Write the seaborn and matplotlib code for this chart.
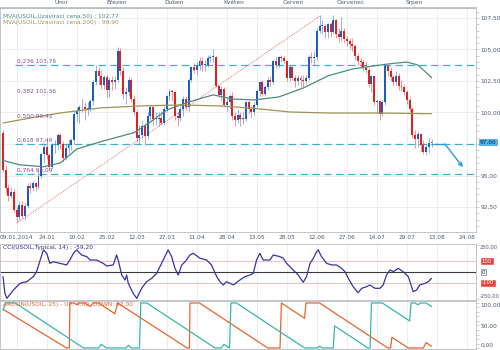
import matplotlib
matplotlib.use("Agg")
import matplotlib.pyplot as plt
import matplotlib.ticker as mticker
import numpy as np
import pandas as pd
import seaborn as sns

sns.set_theme(style="white")
plt.rcParams["font.family"] = ["DejaVu Sans"]

# ---------------- daily OHLC, USOIL, 02.01.2014 - 11.08.2014 ----------------
opens = [98.4, 95.4, 94.0, 93.4, 93.7, 92.3, 91.7, 92.7, 91.8, 92.6,
         94.2, 94.0, 94.4, 94.1, 95.0, 96.7, 97.3, 96.6, 95.7, 97.4,
         97.4, 98.2, 97.5, 96.4, 97.2, 97.4, 97.8, 99.9, 100.1, 100.4,
         100.4, 100.3, 100.3, 100.9, 102.4, 103.3, 102.9, 102.2, 102.8, 101.8,
         102.6, 102.4, 102.6, 104.9, 103.3, 101.5, 101.6, 102.6, 101.1, 100.0,
         98.0, 98.2, 98.9, 98.1, 99.7, 100.4, 99.5, 99.5, 99.6, 99.2,
         100.3, 101.3, 101.7, 101.6, 99.7, 99.6, 100.3, 101.1, 100.4, 102.6,
         103.6, 103.4, 103.7, 104.1, 103.8, 103.8, 104.3, 104.4, 104.4, 102.1,
         101.4, 101.9, 100.6, 100.8, 101.3, 99.7, 99.4, 99.8, 99.5, 99.5,
         100.8, 100.3, 100.0, 100.6, 101.7, 102.4, 101.5, 102.0, 102.6, 102.4,
         104.1, 103.8, 104.4, 104.3, 104.1, 102.7, 103.6, 102.7, 102.5, 102.7,
         102.6, 102.5, 102.7, 104.4, 104.3, 104.4, 106.5, 106.9, 106.9, 106.4,
         107.0, 106.4, 107.3, 106.2, 106.0, 106.5, 105.8, 105.7, 105.4, 105.3,
         104.5, 104.1, 104.0, 103.5, 103.4, 102.3, 102.9, 100.8, 100.9, 99.9,
         100.8, 103.7, 103.3, 102.8, 102.4, 102.9, 102.1, 102.0, 101.6, 101.0,
         100.3, 98.2, 97.9, 98.3, 97.4, 96.9, 97.3, 97.6]
highs = [98.6, 95.8, 94.3, 94.1, 93.9, 92.5, 93.0, 93.0, 92.8, 94.4,
         94.5, 94.6, 94.5, 95.4, 96.8, 97.6, 97.8, 96.8, 97.6, 97.8,
         98.4, 98.4, 97.7, 97.5, 97.9, 98.0, 100.0, 100.4, 100.6, 101.1,
         100.8, 100.8, 101.1, 102.6, 103.8, 103.6, 103.4, 103.0, 103.0, 102.8,
         102.9, 102.9, 105.2, 105.1, 103.6, 102.0, 102.8, 102.7, 101.4, 100.2,
         99.0, 99.4, 99.2, 100.0, 100.6, 100.5, 100.0, 100.0, 100.1, 100.5,
         101.4, 101.9, 101.9, 101.7, 100.0, 100.5, 101.3, 101.3, 102.7, 103.7,
         103.9, 104.0, 104.4, 104.4, 104.2, 104.6, 104.6, 105.0, 104.5, 102.2,
         102.1, 102.0, 101.2, 101.5, 101.6, 100.0, 100.3, 100.0, 100.1, 100.9,
         101.0, 100.5, 100.8, 101.9, 102.5, 102.6, 102.2, 102.8, 102.9, 104.2,
         104.4, 104.5, 104.6, 104.5, 104.2, 103.8, 103.7, 103.0, 103.0, 103.0,
         103.0, 103.0, 104.6, 104.8, 104.9, 106.7, 107.7, 107.3, 107.0, 107.1,
         107.2, 107.7, 107.4, 106.7, 107.6, 106.7, 106.1, 105.9, 105.9, 105.4,
         104.7, 104.3, 104.2, 104.0, 103.5, 103.0, 102.9, 101.1, 101.0, 101.0,
         103.9, 103.8, 103.6, 103.0, 103.3, 103.1, 102.6, 102.3, 101.8, 101.2,
         100.4, 98.6, 98.5, 98.4, 97.8, 97.6, 98.0, 97.9]
lows = [95.3, 93.6, 93.0, 93.2, 92.1, 91.3, 91.5, 91.6, 91.5, 92.4,
        93.6, 93.8, 93.8, 93.9, 94.8, 96.0, 96.3, 95.4, 95.5, 96.8,
        97.0, 97.1, 96.1, 96.2, 96.8, 97.0, 97.5, 99.3, 99.2, 100.0,
        99.4, 99.8, 100.1, 100.6, 102.2, 102.2, 101.9, 101.9, 101.2, 101.2,
        101.8, 101.9, 102.4, 103.0, 101.1, 100.7, 101.3, 100.8, 99.8, 97.7,
        97.5, 98.0, 97.4, 97.9, 99.4, 98.9, 99.0, 98.9, 99.0, 99.0,
        100.0, 101.0, 100.9, 99.4, 98.9, 99.3, 99.7, 100.2, 100.1, 102.4,
        103.1, 103.0, 103.4, 103.3, 103.3, 103.6, 104.0, 104.0, 102.0, 101.2,
        101.0, 100.4, 100.1, 100.3, 99.4, 98.9, 99.2, 98.9, 99.1, 99.3,
        99.9, 99.6, 99.8, 100.4, 101.3, 101.3, 101.3, 101.8, 102.1, 102.3,
        103.5, 103.6, 104.0, 103.9, 102.5, 102.5, 102.6, 102.0, 102.2, 102.0,
        102.0, 102.3, 102.6, 103.9, 103.8, 104.2, 106.3, 106.2, 105.9, 105.9,
        106.0, 106.3, 105.9, 105.6, 105.7, 105.5, 105.3, 105.0, 104.9, 104.2,
        103.8, 103.7, 103.3, 103.1, 102.0, 101.6, 100.6, 100.0, 99.4, 99.7,
        100.6, 102.9, 102.5, 102.1, 102.2, 101.8, 101.7, 101.4, 100.7, 100.0,
        98.0, 97.2, 97.3, 96.9, 96.7, 96.6, 96.8, 97.3]
closes = [95.4, 94.0, 93.4, 93.7, 92.3, 91.7, 92.7, 91.8, 92.6, 94.2,
          94.0, 94.4, 94.1, 95.0, 96.7, 97.3, 96.6, 95.7, 97.4, 97.4,
          98.2, 97.5, 96.4, 97.2, 97.4, 97.8, 99.9, 100.1, 100.4, 100.4,
          100.3, 100.3, 100.9, 102.4, 103.3, 102.9, 102.2, 102.8, 101.8, 102.6,
          102.4, 102.6, 104.9, 103.3, 101.5, 101.6, 102.6, 101.1, 100.0, 98.0,
          98.2, 98.9, 98.1, 99.7, 100.4, 99.5, 99.5, 99.6, 99.2, 100.3,
          101.3, 101.7, 101.6, 99.7, 99.6, 100.3, 101.1, 100.4, 102.6, 103.6,
          103.4, 103.7, 104.1, 103.8, 103.8, 104.3, 104.4, 104.4, 102.1, 101.4,
          101.9, 100.6, 100.8, 101.3, 99.7, 99.4, 99.8, 99.5, 99.5, 100.8,
          100.3, 100.0, 100.6, 101.7, 102.4, 101.5, 102.0, 102.6, 102.4, 104.1,
          103.8, 104.4, 104.3, 104.1, 102.7, 103.6, 102.7, 102.5, 102.7, 102.6,
          102.5, 102.7, 104.4, 104.3, 104.4, 106.5, 106.9, 106.9, 106.4, 107.0,
          106.4, 107.3, 106.2, 106.0, 106.5, 105.8, 105.7, 105.4, 105.3, 104.5,
          104.1, 104.0, 103.5, 103.4, 102.3, 102.9, 100.8, 100.9, 99.9, 100.8,
          103.7, 103.3, 102.8, 102.4, 102.9, 102.1, 102.0, 101.6, 101.0, 100.3,
          98.2, 97.9, 98.3, 97.4, 96.9, 97.3, 97.6, 97.66]

# moving averages (bar index, value)
ma50_x = [0, 6, 15, 21, 27, 36, 48, 54, 60, 68, 77, 84, 92, 101, 110, 119, 128, 136, 143, 148, 152, 157]
ma50_v = [96.2, 95.85, 95.7, 96.0, 97.1, 97.7, 98.4, 99.25, 100.2, 100.83, 101.4, 101.07, 101.0,
          101.23, 101.94, 102.9, 103.45, 103.7, 103.9, 104.0, 103.77, 102.77]
ma200_x = [0, 9.9, 20.9, 35.5, 50.2, 64.8, 79.5, 90.5, 105.1, 119.8, 138.1, 157]
ma200_v = [99.17, 99.56, 99.96, 100.36, 100.52, 100.6, 100.52, 100.36, 100.04, 99.96, 99.96, 99.90]

# Fibonacci retracement between the January low and the June high
fib_low, fib_high = 91.22, 107.63
fib_low_bar, fib_high_bar = 5, 116
fib_ratios = ["0,236", "0,382", "0,500", "0,618", "0,764"]
fib_levels = [103.76, 101.36, 99.42, 97.49, 95.09]
fib_drawn = [True, False, False, True, True]

# projected move
arrow_x = [158.2, 161.9, 168.5]
arrow_y = [97.5, 97.5, 95.67]

# CCI(14)
cci_x = [0, 0.7, 1.4, 3.8, 6.2, 8.7, 11.1, 12.3, 14.2, 14.8,
         16.0, 17.2, 18.4, 20.9, 23.3, 24.5, 25.8, 27.0, 28.8, 30.7,
         31.9, 34.3, 36.7, 38.0, 40.4, 41.6, 42.2, 43.5, 44.7, 45.3,
         45.9, 47.7, 49.0, 50.8, 52.6, 54.5, 56.3, 58.7, 60.5, 61.8,
         63.0, 64.2, 65.5, 66.7, 68.5, 69.7, 72.2, 74.6, 76.4, 78.3,
         79.5, 80.7, 81.9, 83.2, 84.4, 86.8, 88.6, 90.5, 91.7, 92.9,
         94.1, 95.3, 97.8, 99.0, 101.5, 102.7, 103.9, 106.3, 108.2, 110.0,
         111.2, 112.5, 113.7, 114.9, 115.5, 116.7, 118.6, 120.4, 122.2, 124.1,
         125.3, 126.5, 128.3, 130.1, 131.4, 133.2, 134.4, 136.3, 138.1, 139.3,
         140.5, 141.8, 143.0, 144.8, 146.6, 148.5, 150.3, 151.5, 152.7, 154.6,
         155.8, 157.0]
cci_v = [-43, -197, -244, -167, -105, -90, -43, 3, 157, 204,
         173, 80, 95, 80, 65, 111, 173, 204, 157, 142,
         111, 111, 80, 56, 65, 157, 111, -28, -74, -28,
         -105, -197, -244, -151, -90, -58, -12, 111, 204, 142,
         34, -28, 65, 95, 157, 173, 127, 111, 65, -43,
         -90, -120, -90, -105, -120, -74, -43, -28, -12, 111,
         173, 111, 111, 157, 142, 127, 80, 19, -28, -95,
         -43, 80, 127, 188, 204, 142, 80, 65, 65, 34,
         3, -58, -136, -192, -151, -136, -120, -151, -151, -120,
         -28, 19, 3, 34, 3, -43, -182, -167, -120, -105,
         -90, -59.2]

# AROON(25)
aroon_up_x = [0, 23.3, 24.3, 24.5, 26, 27, 28, 30, 31, 32,
              33, 35, 36, 37, 38, 39, 40, 41, 42, 67.5,
              68.3, 68.5, 72, 97, 101.5, 102, 110.5, 111, 116, 141,
              142, 142.5, 148.5, 154, 155, 157]
aroon_up_v = [86, 0, 0, 100, 100, 96, 100, 100, 96, 92,
              100, 100, 96, 92, 88, 84, 80, 76, 100, 0,
              0, 100, 100, 0, 0, 100, 66, 100, 100, 0,
              0, 24, 0, 0, 12, 4]
aroon_dn_x = [0, 1, 4.5, 29.5, 35, 36, 37, 38, 45, 46,
              47, 50, 50.5, 52.7, 77.7, 80, 81, 82, 83, 83.5,
              85.5, 110.5, 115, 116, 117, 121, 121.5, 133.7, 134.5, 135,
              139, 149, 149.5, 151, 152, 153, 155, 157]
aroon_dn_v = [84, 100, 100, 0, 0, 8, 4, 0, 0, 6,
              0, 0, 100, 100, 0, 0, 8, 4, 0, 100,
              100, 0, 0, 4, 0, 0, 49, 0, 0, 100,
              100, 60, 100, 100, 96, 100, 100, 92]

# axis labels
date_labels = ["09.01.2014", "24.01", "10.02", "25.02", "12.03", "27.03", "11.04", "28.04",
               "13.05", "28.05", "12.06", "27.06", "14.07", "29.07", "13.08", "24.08"]
month_labels = ["Únor", "Březen", "Duben", "Květen", "Červen", "Červenec", "Srpen"]
month_bars = [21.5, 41.5, 62.5, 84.5, 106.5, 127.5, 150.5]

# ---------------- layout ----------------
W, H = 500, 350
def rect(x0, y0, x1, y1):
    return [x0 / W, 1 - y1 / H, (x1 - x0) / W, (y1 - y0) / H]

fig = plt.figure(figsize=(5, 3.5), dpi=100)
fig.patch.set_facecolor("white")
ax = fig.add_axes(rect(0, 8, 476, 232))
ax_cci = fig.add_axes(rect(0, 244, 476, 300))
ax_ar = fig.add_axes(rect(0, 301, 476, 349))

XMIN, XMAX = -1.1, 173.3
FS = 4.2
TXT = "#4f5a78"
GRID = "#e6e8ec"
FRAME = "#b8bcc4"
date_pos = [5 + 11 * i for i in range(len(date_labels))]

for a in (ax, ax_cci, ax_ar):
    a.set_xlim(XMIN, XMAX)
    a.set_facecolor("white")
    for s in a.spines.values():
        s.set_color(FRAME)
        s.set_linewidth(0.6)
    a.yaxis.tick_right()
    a.tick_params(axis="y", which="both", direction="out", length=2, width=0.5,
                  colors=FRAME, labelcolor=TXT, labelsize=FS, pad=1)
    a.set_xticks(date_pos)
    for xp in date_pos:
        a.axvline(xp, color=GRID, lw=0.5, zorder=0)

# ---------------- price panel ----------------
df = pd.DataFrame({"bar": np.arange(len(closes)), "open": opens, "high": highs,
                   "low": lows, "close": closes})
up = df["close"] >= df["open"]
UPC, DNC = "#1f5cc2", "#e3201b"
colors = np.where(up, UPC, DNC)
ax.vlines(df["bar"], df["low"], df["high"], colors=colors, lw=0.6, alpha=0.55, zorder=3)
body_lo = np.minimum(df["open"], df["close"])
body_h = np.maximum(np.abs(df["close"] - df["open"]), 0.06)
ax.bar(df["bar"], body_h, bottom=body_lo, width=0.72, color=colors, lw=0, zorder=4)

ax.set_ylim(90.52, 108.29)
ax.set_yticks([92.5, 95.0, 97.5, 100.0, 102.5, 105.0, 107.5])
ax.yaxis.set_minor_locator(mticker.MultipleLocator(0.5))
ax.yaxis.set_major_formatter(mticker.FuncFormatter(
    lambda v, p: "" if abs(v - 97.5) < 0.01 else f"{v:.2f}".replace(".", ",")))
for yv in [92.5, 95.0, 97.5, 100.0, 102.5, 105.0, 107.5]:
    ax.axhline(yv, color=GRID, lw=0.5, zorder=0)

ma_df = pd.DataFrame({"bar": ma50_x, "value": ma50_v})
sns.lineplot(data=ma_df, x="bar", y="value", ax=ax, color="#4e8c7c", lw=0.9, sort=False,
             estimator=None, zorder=5)
ma_df2 = pd.DataFrame({"bar": ma200_x, "value": ma200_v})
sns.lineplot(data=ma_df2, x="bar", y="value", ax=ax, color="#9c9456", lw=0.9, sort=False,
             estimator=None, zorder=5)

# trend line and retracement levels
ax.plot([fib_low_bar, fib_high_bar], [fib_low, fib_high], color="#e8605a", lw=0.6,
        ls=(0, (1.2, 1.2)), zorder=2)
for r, lv, drawn in zip(fib_ratios, fib_levels, fib_drawn):
    if drawn:
        ax.plot([4.3, XMAX], [lv, lv], color="#3cb4c8", lw=0.9, ls=(0, (6, 3.5)), zorder=2)
    ax.text(5.0, lv + 0.12, f"{r} {lv:.2f}".replace(".", ","),
            fontsize=FS, color="#8a4a9c", va="bottom", ha="left", zorder=6)

ax.plot(arrow_x[:2], arrow_y[:2], color="#2a9bd8", lw=1.0, zorder=6)
ax.annotate("", xy=(arrow_x[2], arrow_y[2]), xytext=(arrow_x[1], arrow_y[1]),
            arrowprops=dict(arrowstyle="->", color="#2a9bd8", lw=1.0,
                            shrinkA=0, shrinkB=0, mutation_scale=6), zorder=6)

# last price tag
ax.text(1.008, closes[-1], f"{closes[-1]:.2f}".replace(".", ","), transform=ax.get_yaxis_transform(),
        fontsize=FS, color="#0d2a5a", va="center", ha="left",
        bbox=dict(boxstyle="square,pad=0.15", fc="#4cb8ea", ec="#2a8fc8", lw=0.4), zorder=7)

# legend lines
ax.text(0.006, 0.975, "MVA(USOIL,Uzavírací cena,50) : 102,77", transform=ax.transAxes,
        fontsize=FS, color="#4e8c7c", va="top", ha="left")
ax.text(0.006, 0.948, "MVA(USOIL,Uzavírací cena,200) : 99,90", transform=ax.transAxes,
        fontsize=FS, color="#9c9456", va="top", ha="left")

# bottom dates and top months
ax.set_xticklabels(date_labels)
ax.tick_params(axis="x", which="both", direction="in", length=2, width=0.5, colors=FRAME,
               labelcolor=TXT, labelsize=FS, pad=2)
ax.xaxis.set_minor_locator(mticker.MultipleLocator(2.75))
ax.tick_params(axis="x", which="minor", direction="in", length=1.2, width=0.4, colors=FRAME)
top = ax.secondary_xaxis("top")
top.set_xticks(month_bars)
top.set_xticklabels(month_labels)
top.tick_params(axis="x", direction="out", length=1.5, width=0.5, colors=FRAME,
                labelcolor=TXT, labelsize=FS, pad=0.3)
top.spines["top"].set_color(FRAME)
ax.set_xlabel("")
ax.set_ylabel("")

# ---------------- CCI panel ----------------
ax_cci.set_ylim(-259, 259)
ax_cci.axhline(0, color="#3a3a3a", lw=0.8, zorder=2)
ax_cci.axhline(100, color="#f2b4b4", lw=0.6, zorder=1)
ax_cci.axhline(-100, color="#f2b4b4", lw=0.6, zorder=1)
cci_df = pd.DataFrame({"bar": cci_x, "cci": cci_v})
sns.lineplot(data=cci_df, x="bar", y="cci", ax=ax_cci, color="#3434a8", lw=0.9, sort=False,
             estimator=None, zorder=3)
ax_cci.set_yticks([-250, 250])
ax_cci.set_yticklabels(["-250,00", "250,00"])
ax_cci.tick_params(axis="y", labelsize=FS - 0.5, pad=0.6)
ax_cci.get_yticklabels()[0].set_verticalalignment("bottom")
ax_cci.get_yticklabels()[1].set_verticalalignment("top")
ax_cci.tick_params(axis="x", which="both", length=0, labelbottom=False)
for yv, lab, fc, tc in [(100, "100", "#e5423c", "white"), (-100, "-100", "#e5423c", "white"),
                        (0, "0", "white", "#222222")]:
    ax_cci.text(1.012, yv, lab, transform=ax_cci.get_yaxis_transform(), fontsize=FS - 0.3,
                color=tc, va="center", ha="left",
                bbox=dict(boxstyle="square,pad=0.12", fc=fc, ec="#555555" if fc == "white" else fc,
                          lw=0.4))
ax_cci.text(0.006, 0.985, "CCI(USOIL,Typical, 14) : -59,20", transform=ax_cci.transAxes,
            fontsize=FS, color="#2c2c90", va="top", ha="left")
ax_cci.set_xlabel("")
ax_cci.set_ylabel("")

# ---------------- AROON panel ----------------
ax_ar.set_ylim(-2.2, 104.4)
up_df = pd.DataFrame({"bar": aroon_up_x, "v": aroon_up_v})
dn_df = pd.DataFrame({"bar": aroon_dn_x, "v": aroon_dn_v})
sns.lineplot(data=up_df, x="bar", y="v", ax=ax_ar, color="#e8642e", lw=0.9, sort=False,
             estimator=None, zorder=3)
sns.lineplot(data=dn_df, x="bar", y="v", ax=ax_ar, color="#37b5ae", lw=0.9, sort=False,
             estimator=None, zorder=3)
ax_ar.set_yticks([0, 50, 100])
ax_ar.set_yticklabels(["0,00", "50,00", "100,00"])
ax_ar.get_yticklabels()[0].set_verticalalignment("bottom")
ax_ar.get_yticklabels()[2].set_verticalalignment("top")
ax_ar.yaxis.set_minor_locator(mticker.MultipleLocator(10))
ax_ar.tick_params(axis="x", which="both", length=0, labelbottom=False)
ax_ar.text(0.006, 0.985, "AROON(USOIL, 25) - UP: 4,00  DOWN: 92,00", transform=ax_ar.transAxes,
           fontsize=FS, color="#e8642e", va="top", ha="left")
ax_ar.set_xlabel("")
ax_ar.set_ylabel("")

fig.savefig("out.png", dpi=100, facecolor="white")
